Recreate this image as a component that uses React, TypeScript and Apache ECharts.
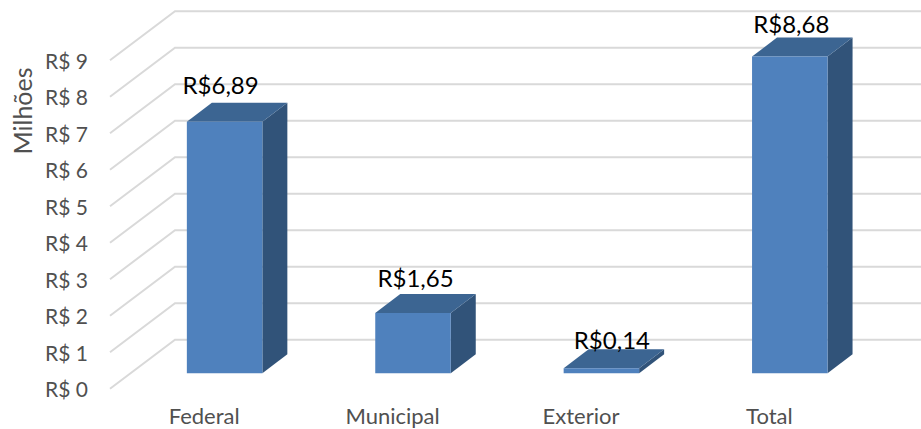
import React, { useEffect, useRef } from "react";
import * as echarts from "echarts";

const categories = ["Federal", "Municipal", "Exterior", "Total"];
const values = [6.89, 1.65, 0.14, 8.68];
const valueLabels = ["R$6,89", "R$1,65", "R$0,14", "R$8,68"];
const yTicks = [0, 1, 2, 3, 4, 5, 6, 7, 8, 9];
const labelNudgeX = [-4, 2.5, 10.5, 1.5];
const labelNudgeY = [-18, -17, -10, -14];

const FONT = "Lato";
const TEXT_COLOR = "#505050";
const WALL_DX = 65;
const WALL_DY = -49;
const BAR_SHIFT_DX = 20.4;
const BAR_SHIFT_DY = -15.4;
const BAR_DEPTH_DX = 25;
const BAR_DEPTH_DY = -19;
const BAR_W = 75.5;

export default function App() {
  const ref = useRef<HTMLDivElement>(null);
  useEffect(() => {
    const chart = echarts.init(ref.current!, undefined, { renderer: "svg" });
    chart.setOption({
      animation: false,
      backgroundColor: "#ffffff",
      grid: { left: 110, top: 60.2, width: 753.6, height: 328.5 },
      xAxis: {
        type: "category",
        data: categories,
        axisLine: { show: false },
        axisTick: { show: false },
        axisLabel: { color: TEXT_COLOR, fontFamily: FONT, fontSize: 22, margin: 16 },
      },
      yAxis: {
        type: "value",
        min: 0,
        max: 9,
        interval: 1,
        splitLine: { show: false },
        axisLine: { show: false },
        axisTick: { show: false },
        axisLabel: {
          color: TEXT_COLOR,
          fontFamily: FONT,
          fontSize: 21,
          margin: 22,
          formatter: (v: number) => `R$ ${v}`,
        },
      },
      graphic: [
        {
          type: "text",
          x: 22,
          y: 111,
          rotation: Math.PI / 2,
          style: {
            text: "Milhões",
            fill: TEXT_COLOR,
            font: `25px ${FONT}`,
            textAlign: "center",
            textVerticalAlign: "middle",
          },
        },
      ],
      series: [
        {
          type: "custom",
          z: 1,
          silent: true,
          clip: false,
          data: yTicks.map((v) => [0, v]),
          encode: { x: 0, y: 1 },
          renderItem: (params: any, api: any) => {
            const y = api.coord([0, api.value(1)])[1];
            const x0 = (params.coordSys as any).x;
            return {
              type: "polyline",
              shape: {
                points: [
                  [x0, y],
                  [x0 + WALL_DX, y + WALL_DY],
                  [api.getWidth(), y + WALL_DY],
                ],
              },
              style: { stroke: "#d9d9d9", lineWidth: 2, fill: "none" },
            };
          },
        },
        {
          type: "custom",
          z: 2,
          silent: true,
          clip: false,
          data: values.map((v, i) => [i, v]),
          encode: { x: 0, y: 1 },
          renderItem: (params: any, api: any) => {
            const i = params.dataIndex;
            const top = api.coord([api.value(0), api.value(1)]);
            const base = api.coord([api.value(0), 0]);
            const l = top[0] + BAR_SHIFT_DX - BAR_W / 2;
            const r = l + BAR_W;
            const yt = top[1] + BAR_SHIFT_DY;
            const yb = base[1] + BAR_SHIFT_DY;
            const dx = BAR_DEPTH_DX;
            const dy = BAR_DEPTH_DY;
            return {
              type: "group",
              children: [
                {
                  type: "polygon",
                  shape: { points: [[r, yt], [r + dx, yt + dy], [r + dx, yb + dy], [r, yb]] },
                  style: { fill: "#315379" },
                },
                {
                  type: "polygon",
                  shape: { points: [[l, yt], [l + dx, yt + dy], [r + dx, yt + dy], [r, yt]] },
                  style: { fill: "#3c6592" },
                },
                {
                  type: "rect",
                  shape: { x: l, y: yt, width: BAR_W, height: yb - yt },
                  style: { fill: "#4f81bd" },
                },
                {
                  type: "text",
                  z2: 10,
                  x: (l + r) / 2 + labelNudgeX[i],
                  y: yt + dy + labelNudgeY[i],
                  style: {
                    text: valueLabels[i],
                    fill: "#000000",
                    font: `24px ${FONT}`,
                    textAlign: "center",
                    textVerticalAlign: "middle",
                  },
                },
              ],
            };
          },
        },
      ],
    });
    return () => chart.dispose();
  }, []);
  return (
    <div
      ref={ref}
      style={{ position: "fixed", left: 0, top: 0, width: 921, height: 429 }}
    />
  );
}
